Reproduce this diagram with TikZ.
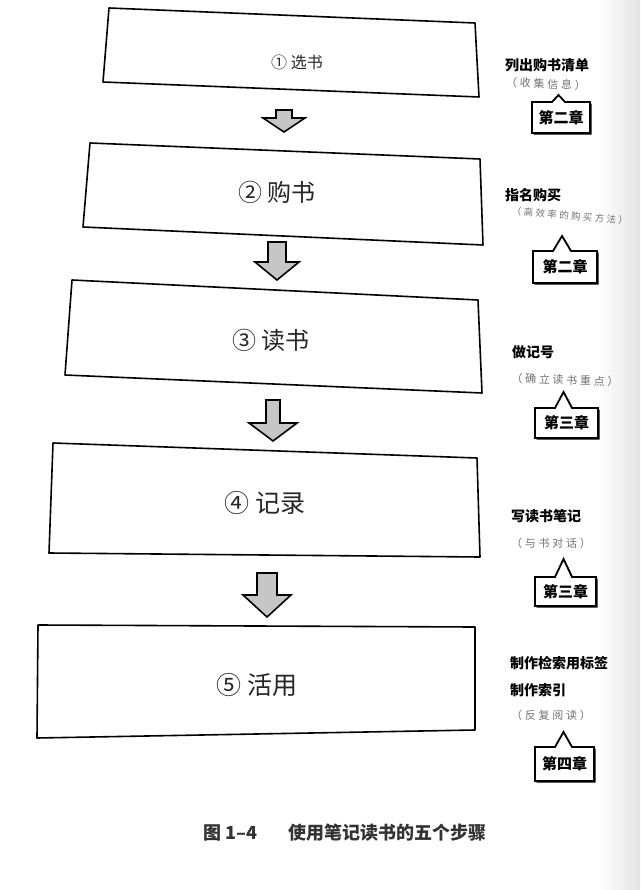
\documentclass[tikz,border=0pt]{standalone}
\usepackage{fontspec}
\setmainfont{Noto Sans CJK SC}
\newfontfamily\cjkspaced{Noto Sans CJK SC}[LetterSpace=25]
\newcommand\blockdown[6]{% cx, top, headtop, tip, shaft half, head half
  \draw[blockarrow] ({#1-#5},#2) -- ({#1+#5},#2) -- ({#1+#5},#3) -- ({#1+#6},#3) -- (#1,#4) -- ({#1-#6},#3) -- ({#1-#5},#3) -- cycle;}
\newcommand\chapbox[9]{% name, L, T, R, B, baseL, baseR, apexY, text
  \fill[black,xshift=1.6pt,yshift=-1.6pt] (#2,#5) -- (#2,#3) -- (#6,#3) -- ({(#6+#7)/2},#8) -- (#7,#3) -- (#4,#3) -- (#4,#5) -- cycle;
  \draw[chap] (#2,#5) -- (#2,#3) -- (#6,#3) -- ({(#6+#7)/2},#8) -- (#7,#3) -- (#4,#3) -- (#4,#5) -- cycle;
  \node[chaptext] (#1) at ({(#2+#4)/2},{(#3+#5)/2}) {#9};}
\begin{document}
\begin{tikzpicture}[x=1pt,y=-1pt,
  stepbox/.style={draw=black, line width=1.6pt, line join=round, fill=white},
  steptext/.style={font=\fontsize{24}{28}\selectfont, text=black!85, inner sep=0pt},
  blockarrow/.style={draw=black, line width=1.6pt, line join=miter, fill=gray!45},
  note/.style={anchor=west, font=\bfseries\fontsize{14}{16}\selectfont, inner sep=0pt},
  subnote/.style={font=\cjkspaced\fontsize{11}{13}\selectfont, text=black!55, inner sep=0pt},
  chap/.style={draw=black, line width=1.8pt, line join=miter, fill=white},
  chaptext/.style={font=\bfseries\fontsize{15}{17}\selectfont, inner sep=0pt},
]
\useasboundingbox (0,0) rectangle (640,890);
\fill[white] (0,0) rectangle (640,890);
\shade[left color=white, right color=gray!22] (600,0) rectangle (640,890);

% step boxes
\draw[stepbox] (109,8) -- (475,23) -- (479,97) -- (103,82) -- cycle;
\node[steptext, font=\fontsize{16}{18}\selectfont] (s1) at (297,62) {① 选书};
\draw[stepbox] (90,143) -- (480,159) -- (483,245) -- (83,227) -- cycle;
\node[steptext] (s2) at (277,192) {② 购书};
\draw[stepbox] (72,280) -- (478,300) -- (482,393) -- (65,375) -- cycle;
\node[steptext] (s3) at (271,340) {③ 读书};
\draw[stepbox] (53,443) -- (477,458) -- (480,557) -- (49,553) -- cycle;
\node[steptext, font=\fontsize{25}{28}\selectfont] (s4) at (265,503) {④ 记录};
\draw[stepbox] (38,625) -- (475,627) -- (475,730) -- (37,738) -- cycle;
\node[steptext, font=\fontsize{25}{28}\selectfont] (s5) at (257,685) {⑤ 活用};

% block arrows
\blockdown{284}{110}{118}{132}{8}{21}
\blockdown{277}{242}{262}{280}{9}{22}
\blockdown{273}{400}{423}{441}{7}{24}
\blockdown{267}{573}{595}{617}{10}{24}

% notes
\node[note] (n1) at (505,65) {列出购书清单};
\node[subnote, rotate=-3] (m1) at (546,84) {（收集信息）};
\chapbox{c1}{532}{102}{590}{133}{552}{565}{95}{第二章}

\node[note] (n2) at (505,195) {指名购买};
\node[subnote, font=\cjkspaced\fontsize{9.5}{12}\selectfont, rotate=-5] (m2) at (570,216) {（高效率的购买方法）};
\chapbox{c2}{533}{251}{597}{283}{553}{571}{236}{第二章}

\node[note] (n3) at (512,352) {做记号};
\node[subnote, rotate=-2] (m3) at (565,380) {（确立读书重点）};
\chapbox{c3}{535}{408}{598}{438}{555}{572}{392}{第三章}

\node[note] (n4) at (511,516) {写读书笔记};
\node[subnote] (m4) at (551,543) {（与书对话）};
\chapbox{c4}{535}{577}{596}{606}{555}{572}{559}{第三章}

\node[note] (n5a) at (510,663) {制作检索用标签};
\node[note] (n5b) at (510,690) {制作索引};
\node[subnote] (m5) at (551,715) {（反复阅读）};
\chapbox{c5}{535}{747}{594}{781}{555}{572}{732}{第四章}

% caption
\node[anchor=west, inner sep=0pt, font=\bfseries\fontsize{18}{20}\selectfont, text=black!80] (cap1) at (203,833) {图 1–4};
\node[anchor=west, inner sep=0pt, font=\bfseries\fontsize{18}{20}\selectfont, text=black!80] (cap2) at (288,833) {使用笔记读书的五个步骤};
\end{tikzpicture}
\end{document}
